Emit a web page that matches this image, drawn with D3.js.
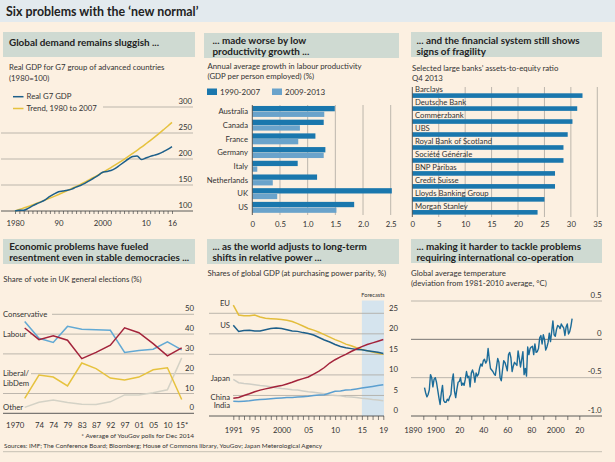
<!DOCTYPE html>
<html><head><meta charset="utf-8">
<script src="https://cdn.jsdelivr.net/npm/d3@7"></script>
<style>
body{margin:0;background:#fcf0e1;}
svg{display:block;}
text{font-family:Lato,'Open Sans',sans-serif;}
</style></head><body>
<svg id="c" width="615" height="462"></svg>
<script>
// ---------------- DATA ----------------
const g7Years = d3.range(1980, 2017);
const g7Real = [100,101.5,101.5,105,110,114,117.5,122,128,133,137,138.5,140,142,146,149,153,158,163,168,174,176,178,182,188,194,200,205,206,199,202,205,207.5,210,214,218.5,224];
const g7Trend = [100,102.8,105.7,108.6,111.7,114.8,118,121.3,124.7,128.2,131.8,135.5,139.3,143.2,147.2,151.3,155.6,159.9,164.4,169,173.8,178.6,183.6,188.8,194.1,199.5,205.1,210.9,216.8,222.8,229.1,235.5,242.1,248.9,255.9,263,270.4];
const g7YTicks = [100,150,200,250,300];
const g7XTicks = [1980,1990,2000,2010,2016];
const g7XLabels = ["1980","90","2000","10","16"];

const prodCountries = ["Australia","Canada","France","Germany","Italy","Netherlands","UK","US"];
const prod9007 = [1.49,1.29,1.14,1.32,0.82,1.17,2.52,1.84];
const prod0913 = [1.30,0.86,0.83,1.29,0.09,0.37,0.45,1.52];
const prodTicks = [0,0.5,1,1.5,2,2.5];

const banks = ["Barclays","Deutsche Bank","Commerzbank","UBS","Royal Bank of Scotland","Société Générale","BNP Paribas","Credit Suisse","Lloyds Banking Group","Morgan Stanley"];
const bankRatio = [32.2,31.2,30.3,29.4,28.6,28.6,27.0,27.0,25.0,23.7];
const bankTicks = [0,5,10,15,20,25,30,35];

const elections = ["1970","74","74","79","83","87","92","97","01","05","10","15*"];
const voteCon = [46.4,37.9,35.8,43.9,42.4,42.2,41.9,30.7,31.7,32.4,36.1,32];
const voteLab = [43.1,37.2,39.2,36.9,27.6,30.8,34.4,43.2,40.7,35.2,29.0,33];
const voteLib = [7.5,19.3,18.3,13.8,25.4,22.6,17.8,16.8,18.3,22.0,23.0,7];
const voteOther = [3.0,5.6,6.7,5.4,4.6,4.4,5.8,9.3,9.3,10.4,11.9,28];
const voteTicks = [0,10,20,30,40,50];

const gdpYears = d3.range(1991, 2020);
const shareEU = [27,24.6,24.4,24.4,24.6,24.1,23.8,23.7,23.6,23.5,23.3,23.0,22.5,21.9,21.3,20.9,20.4,19.8,19.2,18.6,18.1,17.5,17.1,16.6,16.2,15.9,15.6,15.3,15.0];
const shareUS = [22.1,20.6,20.8,20.9,20.7,20.7,21.0,21.3,21.4,21.3,21.0,20.7,20.6,20.3,20.1,19.7,19.1,18.5,18.0,17.4,16.9,16.6,16.4,16.2,16.1,15.9,15.7,15.5,15.2];
const shareChina = [4.3,4.5,5.0,5.4,5.9,6.3,6.6,6.9,7.2,7.4,7.8,8.2,8.7,9.1,9.5,10.2,10.9,11.8,12.9,13.7,14.4,15.0,15.7,16.3,16.9,17.4,17.8,18.2,18.6];
const shareIndia = [3.6,3.5,3.6,3.7,3.9,4.0,4.1,4.2,4.3,4.4,4.5,4.5,4.6,4.7,4.8,5.0,5.1,5.2,5.6,6.0,6.1,6.3,6.4,6.6,6.8,7.0,7.2,7.4,7.6];
const shareJapan = [8.9,8.1,7.9,7.8,7.6,7.4,7.3,7.1,6.9,6.7,6.6,6.4,6.3,6.1,5.9,5.8,5.6,5.4,5.1,5.0,4.9,4.7,4.6,4.5,4.3,4.2,4.0,3.9,3.7];
const shareTicks = [0,5,10,15,20,25];
const shareXTicks = [1991,1995,2000,2005,2010,2015,2019];
const shareXLabels = ["1991","95","2000","05","10","15","19"];

const tempYears = d3.range(1891, 2015);
const tempAnom = [
-0.63,-0.70,-0.75,-0.72,-0.66,-0.46,-0.50,-0.62,-0.52,-0.50,
-0.56,-0.66,-0.76,-0.85,-0.70,-0.60,-0.80,-0.82,-0.82,-0.78,
-0.80,-0.75,-0.72,-0.54,-0.45,-0.68,-0.76,-0.65,-0.56,-0.55,
-0.50,-0.60,-0.57,-0.60,-0.52,-0.42,-0.50,-0.48,-0.62,-0.44,
-0.40,-0.45,-0.56,-0.44,-0.48,-0.45,-0.37,-0.32,-0.35,-0.28,
-0.26,-0.31,-0.28,-0.12,-0.26,-0.38,-0.40,-0.42,-0.45,-0.47,
-0.36,-0.25,-0.30,-0.50,-0.54,-0.40,-0.28,-0.30,-0.35,-0.41,
-0.20,-0.17,-0.24,-0.42,-0.35,-0.30,-0.32,-0.34,-0.15,-0.25,
-0.36,-0.26,-0.16,-0.46,-0.38,-0.48,-0.10,-0.20,-0.12,-0.10,
-0.09,-0.20,-0.06,-0.17,-0.16,-0.12,0.02,0.05,-0.06,0.06,
0.00,-0.14,-0.10,-0.04,0.08,-0.03,0.10,0.24,0.06,0.04,
0.13,0.18,0.17,0.14,0.20,0.17,0.15,0.05,0.16,0.20,
0.07,0.10,0.17,0.27];
const tempYTicks = [-1,-0.5,0,0.5];
const tempYLabels = ["-1.0","-0.5","0","0.5"];
const tempXTicks = d3.range(1890, 2030, 10);
const tempXLabelYears = [1890,1900,1920,1940,1960,1980,2000,2020];
const tempXLabels = ["1890","1900","20","40","60","80","2000","20"];

// ---------------- STYLE ----------------
const BG = "#fcf0e1", HEAD = "#cfdad2", GRID = "#aca79f", AXIS = "#4a4a4a", INK = "#222", SUB = "#333";
const FS_SUB = 7.8, FS_TICK = 7.8, FS_LAB = 7.7, FS_HEAD = 9.9;
const svg = d3.select("#c");
svg.append("rect").attr("width",615).attr("height",462).attr("fill",BG);

function txt(g,x,y,s,size,opt){
  opt = opt||{};
  return g.append("text").attr("x",x).attr("y",y).text(s)
    .attr("font-size",size).attr("font-weight",opt.w||"normal")
    .attr("text-anchor",opt.a||"start").attr("fill",opt.f||SUB);
}
function hline(g,x0,x1,y,col,w){ g.append("line").attr("x1",x0).attr("x2",x1).attr("y1",y).attr("y2",y).attr("stroke",col).attr("stroke-width",w||0.8); }
function vline(g,x,y0,y1,col,w){ g.append("line").attr("x1",x).attr("x2",x).attr("y1",y0).attr("y2",y1).attr("stroke",col).attr("stroke-width",w||0.8); }
function header(x0,x1,y0,y1,lines,tx,b0){
  svg.append("rect").attr("x",x0).attr("y",y0).attr("width",x1-x0).attr("height",y1-y0).attr("fill",HEAD);
  lines.forEach((l,i)=>txt(svg,tx,b0+i*11.2,l,FS_HEAD,{w:"bold",f:INK}));
}
function xTicks(g,scale,vals,y,len){
  const ax = d3.axisBottom(scale).tickValues(vals).tickSize(len).tickFormat("");
  const a = g.append("g").attr("transform",`translate(0,${y})`).call(ax);
  a.select(".domain").remove();
  a.selectAll("line").attr("stroke",AXIS).attr("stroke-width",0.7);
}
function xLabels(g,scale,vals,labels,y){
  const ax = d3.axisBottom(scale).tickValues(vals).tickSize(0).tickPadding(0).tickFormat((d,i)=>labels[i]);
  const a = g.append("g").attr("class","xl").attr("transform",`translate(0,${y})`).call(ax);
  a.select(".domain").remove();
  a.selectAll("line").remove();
  a.selectAll("text").attr("font-size",FS_TICK).attr("fill",SUB).attr("font-family","Lato,'Open Sans',sans-serif").attr("dy",0).attr("y",0);
  return a;
}

// ---------------- TITLE ----------------
svg.append("rect").attr("x",0).attr("y",0).attr("width",615).attr("height",22).attr("fill","#e3eaee");
txt(svg,6,16,"Six problems with the ‘new normal’",12.4,{w:"bold",f:INK});

// ---------------- PANEL 1 ----------------
{
const g = svg.append("g");
header(3,195,32,57,["Global demand remains sluggish ..."],9,45.5);
txt(g,9,70,"Real GDP for G7 group of advanced countries",FS_SUB);
txt(g,9,80.5,"(1980=100)",FS_SUB);
const x = d3.scaleLinear().domain([1980,2016]).range([15,172]);
const y = d3.scaleLinear().domain([100,300]).range([211,107]);
g7YTicks.forEach(v=>{
  hline(g, v===300?103:1, 193, y(v), v===100?AXIS:GRID, v===100?0.9:0.8);
  txt(g,192,y(v)-3,String(v),FS_TICK,{a:"end"});
});
xTicks(g,x,g7Years,y(100),3);
xLabels(g,x,g7XTicks,g7XLabels,226);
const ln = d3.line().x((d,i)=>x(g7Years[i])).y(d=>y(d)).curve(d3.curveMonotoneX);
g.append("path").attr("d",ln(g7Trend)).attr("fill","none").attr("stroke","#e6c23e").attr("stroke-width",1.5);
g.append("path").attr("d",ln(g7Real)).attr("fill","none").attr("stroke","#1d5f8a").attr("stroke-width",1.5);
hline(g,13,23.5,96.7,"#1d5f8a",1.5); txt(g,26.5,99.4,"Real G7 GDP",FS_SUB);
hline(g,13,23.5,108.5,"#e6c23e",1.5); txt(g,26.5,111.2,"Trend, 1980 to 2007",FS_SUB);
}

// ---------------- PANEL 2 ----------------
{
const g = svg.append("g");
header(204,399,33,58,["... made worse by low","productivity growth ..."],212.5,43.5);
txt(g,207.5,69,"Annual average growth in labour productivity",FS_SUB);
txt(g,207.5,79,"(GDP per person employed) (%)",FS_SUB);
const C1="#1a77ad", C2="#6aa3cb";
g.append("rect").attr("x",207).attr("y",88.5).attr("width",10).attr("height",6.5).attr("fill",C1);
txt(g,220,94.6,"1990-2007",8);
g.append("rect").attr("x",272).attr("y",88.5).attr("width",10).attr("height",6.5).attr("fill",C2);
txt(g,285,94.6,"2009-2013",8);
const x = d3.scaleLinear().domain([0,2.5]).range([252.3,390.7]);
const y = d3.scaleBand().domain(prodCountries).range([104.6,214.2]).paddingInner(0.2).paddingOuter(0.1);
const sub = d3.scaleBand().domain(["a","b"]).range([0,y.bandwidth()]).paddingInner(0.06);
prodTicks.slice(1).forEach(v=>vline(g,x(v),105,215,GRID));
prodCountries.forEach((c,i)=>{
  g.append("rect").attr("x",x(0)).attr("y",y(c)+sub("a")).attr("width",x(prod9007[i])-x(0)).attr("height",sub.bandwidth()).attr("fill",C1);
  g.append("rect").attr("x",x(0)).attr("y",y(c)+sub("b")).attr("width",x(prod0913[i])-x(0)).attr("height",sub.bandwidth()).attr("fill",C2);
  txt(g,248,y(c)+y.bandwidth()/2+2.7,c,FS_LAB,{a:"end"});
});
vline(g,x(0),105,215,AXIS,0.9);
xLabels(g,x,prodTicks,prodTicks.map(v=>v===0?"0":v.toFixed(1)),226.5);
}

// ---------------- PANEL 3 ----------------
{
const g = svg.append("g");
header(411,602,32,57,["... and the financial system still shows","signs of fragility"],416.5,43.5);
txt(g,412,70.5,"Selected large banks’ assets-to-equity ratio",FS_SUB);
txt(g,412,80.8,"Q4 2013",FS_SUB);
const x = d3.scaleLinear().domain([0,35]).range([412.3,597.3]);
const y = d3.scaleBand().domain(banks).range([87,216.7]).padding(0);
bankTicks.slice(1).forEach(v=>vline(g,x(v),87,217,GRID));
banks.forEach((b,i)=>{
  g.append("rect").attr("x",x(0)).attr("y",y(b)+6.3).attr("width",x(bankRatio[i])-x(0)).attr("height",4.6).attr("fill","#1a77ad");
  txt(g,415,y(b)+4.9,b,FS_LAB);
});
vline(g,x(0),87,217,AXIS,0.9);
xLabels(g,x,bankTicks,bankTicks.map(String),227);
}

// ---------------- PANEL 4 ----------------
{
const g = svg.append("g");
header(3,195,239,264,["Economic problems have fueled","resentment even in stable democracies ..."],9.3,250);
txt(g,3.3,281.5,"Share of vote in UK general elections (%)",FS_SUB);
const idx = elections.map((d,i)=>i);
const x = d3.scalePoint().domain(idx).range([24.7,181.7]);
const y = d3.scaleLinear().domain([0,50]).range([413.3,314.3]);
const starts = {0:3,10:3,20:31,30:3,40:30,50:52};
voteTicks.forEach(v=>{
  hline(g,starts[v],194,y(v),v===0?AXIS:GRID,v===0?0.9:0.8);
  txt(g,194,y(v)-3,String(v),FS_TICK,{a:"end"});
});
const ln = d3.line().x((d,i)=>x(i)).y(d=>y(d));
[[voteOther,"#d4d2c6"],[voteLib,"#e6c23e"],[voteCon,"#62a9d4"],[voteLab,"#a3233b"]].forEach(([s,c])=>{
  g.append("path").attr("d",ln(s)).attr("fill","none").attr("stroke",c).attr("stroke-width",1.5);
});
txt(g,3,317,"Conservative",FS_LAB);
txt(g,3,337,"Labour",FS_LAB);
txt(g,3,375.5,"Liberal/",FS_LAB);
txt(g,3,386.3,"LibDem",FS_LAB);
txt(g,3,410,"Other",FS_LAB);
const a = xLabels(g,x,idx,elections,428);
a.selectAll("text").filter((d,i)=>i===0).attr("text-anchor","end").attr("dx",-1);
txt(g,194,438,"* Average of YouGov polls for Dec 2014",6.5,{a:"end"});
}

// ---------------- PANEL 5 ----------------
{
const g = svg.append("g");
header(207,399,239,264,["... as the world adjusts to long-term","shifts in relative power ..."],212.5,250);
txt(g,207.5,276,"Shares of global GDP (at purchasing power parity, %)",FS_SUB);
const x = d3.scaleLinear().domain([1991,2019]).range([233.3,383.3]);
const y = d3.scaleLinear().domain([0,25]).range([416,313.3]);
g.append("rect").attr("x",x(2015)).attr("y",300.5).attr("width",x(2019)-x(2015)+0.7).attr("height",416-300.5).attr("fill","#d5e4ee");
txt(g,373,297.3,"Forecasts",5.6,{a:"middle"});
const starts = {0:209,5:233,10:233,15:209,20:209,25:209};
shareTicks.forEach(v=>{
  hline(g,starts[v],384,y(v),v===0?AXIS:GRID,v===0?0.9:0.8);
  txt(g,398,y(v)-2.6,String(v),FS_TICK,{a:"end"});
});
xTicks(g,x,gdpYears,y(0),4);
xLabels(g,x,shareXTicks,shareXLabels,433);
const ln = d3.line().x((d,i)=>x(gdpYears[i])).y(d=>y(d));
[[shareJapan,"#cfcec6"],[shareIndia,"#5b9fd0"],[shareEU,"#e3bd3c"],[shareUS,"#1d5f8a"],[shareChina,"#a3233b"]].forEach(([s,c])=>{
  g.append("path").attr("d",ln(s)).attr("fill","none").attr("stroke",c).attr("stroke-width",1.5);
});
txt(g,230,306,"EU",FS_LAB,{a:"end"});
txt(g,230,328,"US",FS_LAB,{a:"end"});
txt(g,230,381,"Japan",FS_LAB,{a:"end"});
txt(g,230,399.5,"China",FS_LAB,{a:"end"});
txt(g,230,408.3,"India",FS_LAB,{a:"end"});
}

// ---------------- PANEL 6 ----------------
{
const g = svg.append("g");
header(411,602,239,263,["... making it harder to tackle problems","requiring international co-operation"],416.5,250);
txt(g,411,276,"Global average temperature",FS_SUB);
txt(g,411,286,"(deviation from 1981-2010 average, °C)",FS_SUB);
const x = d3.scaleLinear().domain([1890,2020]).range([423.3,579.3]);
const y = d3.scaleLinear().domain([-1,0.5]).range([416,301]);
tempYTicks.forEach((v,i)=>{
  hline(g,411,602,y(v),v===-1?AXIS:(v===0?"#555":GRID),v===-1?0.9:0.8);
  txt(g,601.5,y(v)-3.5,tempYLabels[i],FS_TICK,{a:"end"});
});
xTicks(g,x,tempXTicks,y(-1),4);
const a = xLabels(g,x,tempXLabelYears,tempXLabels,433);
a.selectAll("text").filter(d=>d===1890).attr("text-anchor","end").attr("dx",-1.5);
const ln = d3.line().x((d,i)=>x(tempYears[i])).y(d=>y(d));
g.append("path").attr("d",ln(tempAnom)).attr("fill","none").attr("stroke","#1c6c99").attr("stroke-width",1.4).attr("stroke-linejoin","round");
}

// ---------------- FOOTER ----------------
txt(svg,4,448.3,"Sources: IMF; The Conference Board; Bloomberg; House of Commons library, YouGov; Japan Meterological Agency",6.35);
hline(svg,3,602,451.7,"#b8b2a8",0.8);
</script>
</body></html>
